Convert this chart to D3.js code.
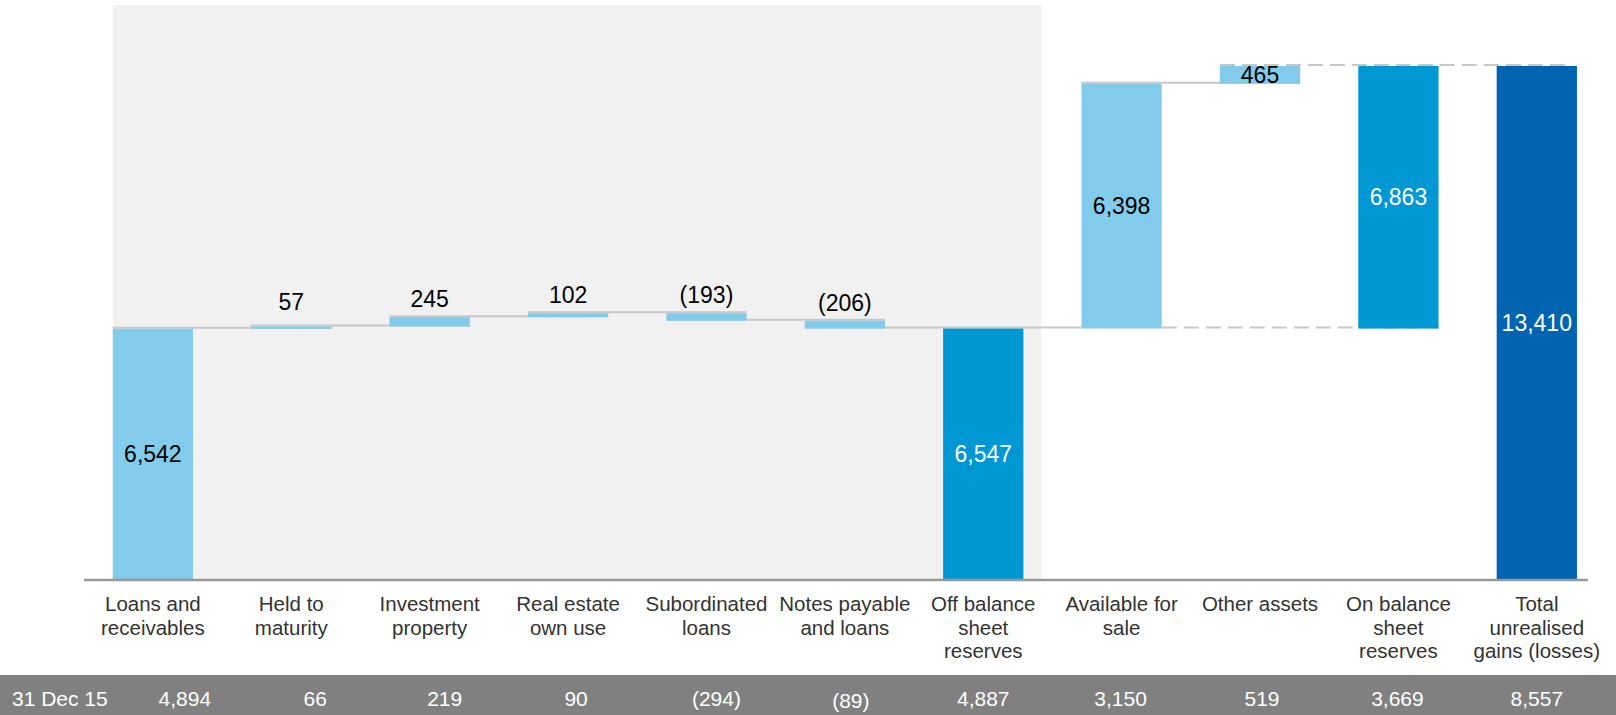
<!DOCTYPE html>
<html>
<head>
<meta charset="utf-8">
<script src="https://cdn.jsdelivr.net/npm/d3@7"></script>
<style>
  body { margin: 0; background: #fff; }
  svg { display: block; font-family: "Liberation Sans", Arial, sans-serif; }
</style>
</head>
<body>
<div id="chart"></div>
<script>
// data
const labelLines = [
  ['Loans and', 'receivables'],
  ['Held to', 'maturity'],
  ['Investment', 'property'],
  ['Real estate', 'own use'],
  ['Subordinated', 'loans'],
  ['Notes payable', 'and loans'],
  ['Off balance', 'sheet', 'reserves'],
  ['Available for', 'sale'],
  ['Other assets'],
  ['On balance', 'sheet', 'reserves'],
  ['Total', 'unrealised', 'gains (losses)']
];
const values = [6542, 57, 245, 102, -193, -206, 6547, 6398, 465, 6863, 13410];
const kinds = ['start', 'change', 'change', 'change', 'change', 'change', 'subtotal', 'change', 'change', 'bridge', 'total'];
const priorLabel = '31 Dec 15';
const priorValues = ['4,894', '66', '219', '90', '(294)', '(89)', '4,887', '3,150', '519', '3,669', '8,557'];

// layout
const W = 1616, H = 715;
const baseY = 579, topY = 66;
const tableNudge = [32, 24, 15, 8, 10, 6, 0, -1, 2, -1, 0];

const colors = { start: '#82cbea', change: '#82cbea', subtotal: '#0098d4', bridge: '#0098d4', total: '#0064b1' };
const lineColor = '#c8c8c8';

const cats = labelLines.map(d => d.join(' '));

// compute bar extents
let running = 0;
const bars = values.map((v, i) => {
  const k = kinds[i];
  let y0, y1;
  if (k === 'start' || k === 'subtotal' || k === 'total') { y0 = 0; y1 = v; running = v; }
  else if (k === 'change') { y0 = running; y1 = running + v; running = y1; }
  else { y0 = running - v; y1 = running; }
  return { cat: cats[i], value: v, kind: k, y0: y0, y1: y1, i: i };
});

const x = d3.scaleBand()
  .domain(cats)
  .range([83.7, 1606])
  .paddingInner(0.42)
  .paddingOuter(0.21);
const bw = x.bandwidth();
const step = x.step();

const y = d3.scaleLinear()
  .domain([0, d3.max(values)])
  .range([baseY, topY]);

const svg = d3.select('#chart').append('svg')
  .attr('width', W)
  .attr('height', H);

// shaded panel behind the off balance sheet part
svg.append('rect')
  .attr('x', x(cats[0]))
  .attr('y', 5)
  .attr('width', x(cats[6]) + bw + step * 0.42 * 0.31 - x(cats[0]))
  .attr('height', baseY - 5)
  .attr('fill', '#f1f1f1');

// connector lines
const bx = i => x(cats[i]);
const links = [];
for (let i = 0; i < 5; i++) {
  links.push({ level: bars[i].y1, x1: bx(i), x2: bx(i + 1) + bw, dash: false });
}
links.push({ level: bars[5].y1, x1: bx(5), x2: bx(7), dash: false });
links.push({ level: bars[7].y1, x1: bx(7), x2: bx(8) + bw, dash: false });
links.push({ level: bars[10].y1, x1: bx(8), x2: bx(10) + bw - 9, dash: true });
links.push({ level: bars[9].y0, x1: bx(7) + bw, x2: bx(9) + bw, dash: true });

svg.append('g').selectAll('line')
  .data(links)
  .join('line')
  .attr('x1', d => d.x1)
  .attr('x2', d => d.x2)
  .attr('y1', d => y(d.level) - 1)
  .attr('y2', d => y(d.level) - 1)
  .attr('stroke', lineColor)
  .attr('stroke-width', 2)
  .attr('stroke-dasharray', d => d.dash ? '15,7' : null);

// bars
svg.append('g').selectAll('rect')
  .data(bars)
  .join('rect')
  .attr('x', d => x(d.cat))
  .attr('width', bw)
  .attr('y', d => y(Math.max(d.y0, d.y1)))
  .attr('height', d => Math.max(1.5, Math.abs(y(d.y0) - y(d.y1))))
  .attr('fill', d => colors[d.kind]);

// value labels
const fmt = v => v < 0 ? '(' + d3.format(',')(-v) + ')' : d3.format(',')(v);
svg.append('g').selectAll('text')
  .data(bars)
  .join('text')
  .attr('x', d => x(d.cat) + bw / 2)
  .attr('y', d => {
    const top = y(Math.max(d.y0, d.y1));
    const h = Math.abs(y(d.y0) - y(d.y1));
    if (h > 15) return top + h / 2 + 8;
    return h < 3 ? top - 17 : top - 10;
  })
  .attr('text-anchor', 'middle')
  .attr('font-size', 23)
  .attr('fill', d => (d.kind === 'start' || d.kind === 'change') ? '#000' : '#fff')
  .text(d => fmt(d.value));

// baseline
svg.append('line')
  .attr('x1', 84)
  .attr('x2', bx(10) + bw + 11)
  .attr('y1', baseY + 1)
  .attr('y2', baseY + 1)
  .attr('stroke', '#999')
  .attr('stroke-width', 2.5);

// category labels
const catG = svg.append('g').selectAll('text')
  .data(labelLines)
  .join('text')
  .attr('text-anchor', 'middle')
  .attr('font-size', 20.5)
  .attr('fill', '#333');
catG.selectAll('tspan')
  .data((d, i) => d.map(t => ({ t: t, i: i })))
  .join('tspan')
  .attr('x', d => x(cats[d.i]) + bw / 2)
  .attr('y', (d, j) => 611 + j * 23.7)
  .text(d => d.t);

// prior-year row
svg.append('rect')
  .attr('x', 0)
  .attr('y', 675)
  .attr('width', W)
  .attr('height', H - 675)
  .attr('fill', '#808080');

svg.append('text')
  .attr('x', 12)
  .attr('y', 706)
  .attr('font-size', 21)
  .attr('fill', '#fff')
  .text(priorLabel);

svg.append('g').selectAll('text')
  .data(priorValues)
  .join('text')
  .attr('x', (d, i) => x(cats[i]) + bw / 2 + tableNudge[i])
  .attr('y', (d, i) => i === 5 ? 708 : 706)
  .attr('text-anchor', 'middle')
  .attr('font-size', 21)
  .attr('fill', '#fff')
  .text(d => d);
</script>
</body>
</html>
